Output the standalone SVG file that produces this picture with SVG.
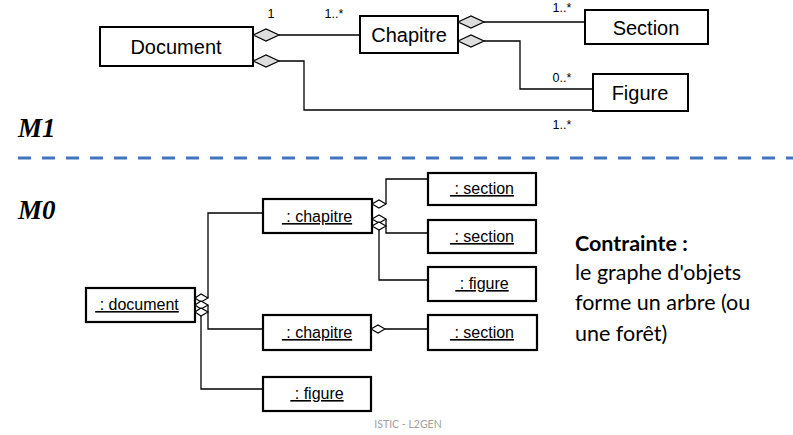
<svg xmlns="http://www.w3.org/2000/svg" width="793" height="435" viewBox="0 0 793 435">
  <style>
    .cls { fill: #fff; stroke: #000; stroke-width: 2; }
    .obj { fill: #fff; stroke: #000; stroke-width: 2.2; }
    .t1 { font-family: "Liberation Sans", Arial, sans-serif; font-size: 20px; fill: #000; text-anchor: middle; }
    .t0 { font-family: "Liberation Sans", Arial, sans-serif; font-size: 16px; fill: #000; text-anchor: middle; text-decoration: underline; white-space: pre; }
    .mult { font-family: "Liberation Sans", Arial, sans-serif; font-size: 12.5px; fill: #000; text-anchor: middle; }
    .wire { fill: none; stroke: #000; stroke-width: 1.3; }
    .agg1 { fill: #ddd; stroke: #000; stroke-width: 1.2; }
    .agg0 { fill: #fff; stroke: #000; stroke-width: 1.1; }
    .lvl { font-family: "Liberation Serif", "Times New Roman", serif; font-style: italic; font-weight: bold; font-size: 27px; fill: #000; }
    .note { font-family: Lato, "Open Sans", sans-serif; font-size: 21.5px; fill: #000; }
  </style>

  <!-- level separator -->
  <line x1="18" y1="158" x2="793" y2="158" stroke="#4472C4" stroke-width="3" stroke-dasharray="13 11"/>
  <text class="lvl" x="18" y="137">M1</text>
  <text class="lvl" x="18" y="219">M0</text>

  <!-- class diagram connectors -->
  <g id="connectors-m1">
    <polyline class="wire" points="279,35 360,35"/>
    <polyline class="wire" points="279,61 304,61 304,110 593,110"/>
    <polyline class="wire" points="484,22 585,22"/>
    <polyline class="wire" points="484,41 520,41 520,89 593,89"/>
    <polygon class="agg1" points="253,35 266,29 279,35 266,41"/>
    <polygon class="agg1" points="253,61 266,55 279,61 266,67"/>
    <polygon class="agg1" points="458,22 471,16 484,22 471,28"/>
    <polygon class="agg1" points="458,41 471,35 484,41 471,47"/>
    <text class="mult" x="271" y="18">1</text>
    <text class="mult" x="334" y="18">1..*</text>
    <text class="mult" x="562" y="12">1..*</text>
    <text class="mult" x="562" y="82">0..*</text>
    <text class="mult" x="562" y="129">1..*</text>
  </g>

  <g id="Document"><rect class="cls" x="100" y="27" width="153" height="39"/><text class="t1" x="176" y="54">Document</text></g>
  <g id="Chapitre"><rect class="cls" x="360" y="16" width="98" height="37"/><text class="t1" x="409" y="42">Chapitre</text></g>
  <g id="Section"><rect class="cls" x="585" y="10" width="123" height="34"/><text class="t1" x="646" y="35">Section</text></g>
  <g id="Figure"><rect class="cls" x="593" y="74" width="95" height="37"/><text class="t1" x="640" y="100">Figure</text></g>

  <!-- object diagram connectors -->
  <g id="connectors-m0">
    <polyline class="wire" points="208,298 208,213 263,213"/>
    <polyline class="wire" points="208,305 208,329 263,329"/>
    <polyline class="wire" points="201,316 201,389 263,389"/>
    <polyline class="wire" points="386,204 386,179 428,179"/>
    <polyline class="wire" points="386,219 386,233 428,233"/>
    <polyline class="wire" points="379,230 379,280 428,280"/>
    <polyline class="wire" points="385,329 428,329"/>
    <polygon class="agg0" points="195,298 201,294 208,298 201,302"/>
    <polygon class="agg0" points="195,305 201,301 208,305 201,309"/>
    <polygon class="agg0" points="195,312 201,308 208,312 201,316"/>
    <polygon class="agg0" points="372,204 379,200 386,204 379,208"/>
    <polygon class="agg0" points="372,219 379,215 386,219 379,223"/>
    <polygon class="agg0" points="372,226 379,222 386,226 379,230"/>
    <polygon class="agg0" points="371,329 378,325 385,329 378,333"/>
  </g>

  <g id="doc0"><rect class="obj" x="86" y="288" width="109" height="34"/><text class="t0" x="137" y="310"> : document</text></g>
  <g id="chap1"><rect class="obj" x="263" y="199" width="109" height="34"/><text class="t0" x="317" y="222"> : chapitre</text></g>
  <g id="sec1"><rect class="obj" x="428" y="173" width="108" height="32"/><text class="t0" x="482" y="194"> : section</text></g>
  <g id="sec2"><rect class="obj" x="428" y="220" width="108" height="33"/><text class="t0" x="482" y="242"> : section</text></g>
  <g id="fig1"><rect class="obj" x="428" y="267" width="108" height="34"/><text class="t0" x="482" y="289"> : figure</text></g>
  <g id="chap2"><rect class="obj" x="263" y="315" width="108" height="35"/><text class="t0" x="317" y="338"> : chapitre</text></g>
  <g id="sec3"><rect class="obj" x="428" y="315" width="109" height="35"/><text class="t0" x="482" y="338"> : section</text></g>
  <g id="fig2"><rect class="obj" x="263" y="377" width="108" height="34"/><text class="t0" x="317" y="399"> : figure</text></g>

  <!-- constraint note -->
  <text class="note" x="575" y="251" font-weight="bold">Contrainte :</text>
  <text class="note" x="575" y="280">le graphe d'objets</text>
  <text class="note" x="575" y="310">forme un arbre (ou</text>
  <text class="note" x="575" y="341">une forêt)</text>

  <text x="408" y="428" font-family="Lato, 'Open Sans', sans-serif" font-size="10.5" fill="#a0a0a0" text-anchor="middle">ISTIC - L2GEN</text>
</svg>
